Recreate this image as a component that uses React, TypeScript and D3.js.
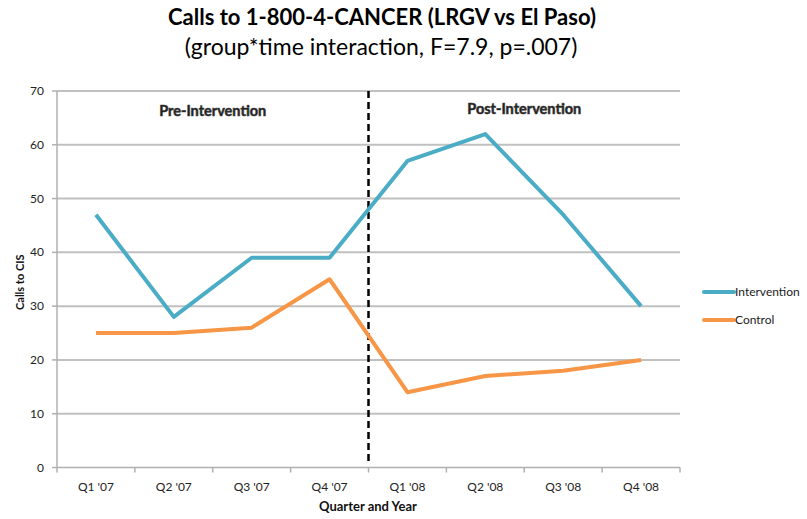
import React, { useEffect, useRef } from 'react';
import * as d3 from 'd3';

const quarters = ["Q1 '07", "Q2 '07", "Q3 '07", "Q4 '07", "Q1 '08", "Q2 '08", "Q3 '08", "Q4 '08"];
const intervention = [47, 28, 39, 39, 57, 62, 47, 30];
const control = [25, 25, 26, 35, 14, 17, 18, 20];
const yTicks = [0, 10, 20, 30, 40, 50, 60, 70];
const seriesNames = ['Intervention', 'Control'];
const seriesColors = ['#4bacc6', '#f79646'];
const phaseLabels = ['Pre-Intervention', 'Post-Intervention'];

export default function App() {
  const svgRef = useRef<SVGSVGElement | null>(null);

  useEffect(() => {
    const svgEl = svgRef.current;
    if (!svgEl) return;
    const svg = d3.select(svgEl);
    svg.selectAll('*').remove();

    const width = 807;
    const height = 519;
    const left = 57;
    const right = 680;
    const top = 91;
    const bottom = 467.5;
    const font = 'Lato, "Open Sans", sans-serif';

    const x = d3.scaleBand().domain(quarters).range([left, right]).padding(0);
    const y = d3.scaleLinear().domain([0, 70]).range([bottom, top]);
    const cx = (q: string) => (x(q) ?? 0) + x.bandwidth() / 2;

    svg.append('rect').attr('width', width).attr('height', height).attr('fill', '#fff');

    // Title
    svg.append('text')
      .attr('x', 382).attr('y', 25)
      .attr('text-anchor', 'middle')
      .attr('font-family', font).attr('font-weight', 'bold').attr('font-size', 22)
      .attr('fill', '#000')
      .text('Calls to 1-800-4-CANCER (LRGV vs El Paso)');
    svg.append('text')
      .attr('x', 381).attr('y', 55)
      .attr('text-anchor', 'middle')
      .attr('font-family', font).attr('font-size', 23)
      .attr('fill', '#000')
      .text('(group*time interaction, F=7.9, p=.007)');

    // Gridlines
    svg.append('g')
      .selectAll('line')
      .data(yTicks.filter(t => t > 0))
      .enter()
      .append('line')
      .attr('x1', left).attr('x2', right)
      .attr('y1', d => y(d)).attr('y2', d => y(d))
      .attr('stroke', '#c0c0c0').attr('stroke-width', 2);

    // Axes lines
    svg.append('line')
      .attr('x1', left).attr('x2', left).attr('y1', top).attr('y2', bottom)
      .attr('stroke', '#b0b0b0').attr('stroke-width', 1.5);
    svg.append('line')
      .attr('x1', left).attr('x2', right).attr('y1', bottom).attr('y2', bottom)
      .attr('stroke', '#b0b0b0').attr('stroke-width', 1.5);

    // Y ticks + labels
    const yg = svg.append('g');
    yg.selectAll('line')
      .data(yTicks)
      .enter()
      .append('line')
      .attr('x1', left - 5).attr('x2', left)
      .attr('y1', d => y(d)).attr('y2', d => y(d))
      .attr('stroke', '#b0b0b0').attr('stroke-width', 1.5);
    yg.selectAll('text')
      .data(yTicks)
      .enter()
      .append('text')
      .attr('x', left - 13).attr('y', d => y(d) + 4)
      .attr('text-anchor', 'end')
      .attr('font-family', font).attr('font-size', 12).attr('fill', '#222')
      .text(d => d);

    // X ticks at boundaries
    const boundaries = quarters.map(q => x(q) ?? 0).concat([right]);
    svg.append('g')
      .selectAll('line')
      .data(boundaries)
      .enter()
      .append('line')
      .attr('x1', d => d).attr('x2', d => d)
      .attr('y1', bottom).attr('y2', bottom + 5)
      .attr('stroke', '#b0b0b0').attr('stroke-width', 1.5);
    svg.append('g')
      .selectAll('text')
      .data(quarters)
      .enter()
      .append('text')
      .attr('x', d => cx(d)).attr('y', bottom + 23)
      .attr('text-anchor', 'middle')
      .attr('font-family', font).attr('font-size', 12).attr('fill', '#222')
      .text(d => d);

    // Axis titles
    svg.append('text')
      .attr('x', 368).attr('y', 511)
      .attr('text-anchor', 'middle')
      .attr('font-family', font).attr('font-weight', 'bold').attr('font-size', 13)
      .attr('fill', '#111')
      .text('Quarter and Year');
    svg.append('text')
      .attr('transform', `translate(24, ${(top + bottom) / 2 + 3}) rotate(-90)`)
      .attr('text-anchor', 'middle')
      .attr('font-family', font).attr('font-weight', 'bold').attr('font-size', 11)
      .attr('fill', '#111')
      .text('Calls to CIS');

    // Dashed divider between Q4 '07 and Q1 '08
    const divX = x(quarters[4]) ?? 0;
    svg.append('line')
      .attr('x1', divX).attr('x2', divX)
      .attr('y1', top).attr('y2', bottom - 6)
      .attr('stroke', '#000').attr('stroke-width', 2.5)
      .attr('stroke-dasharray', '7,4');

    // Phase labels
    const phaseX = [(left + divX) / 2, (divX + right) / 2];
    svg.append('g')
      .selectAll('text')
      .data(phaseLabels)
      .enter()
      .append('text')
      .attr('x', (d, i) => phaseX[i]).attr('y', (d, i) => (i === 0 ? 116 : 114))
      .attr('text-anchor', 'middle')
      .attr('font-family', font).attr('font-weight', 'bold').attr('font-size', 14.5)
      .attr('fill', '#1a1a1a')
      .attr('stroke', '#444').attr('stroke-width', 0.6)
      .text(d => d);

    // Lines
    const line = d3.line<number>()
      .x((d, i) => cx(quarters[i]))
      .y(d => y(d));
    [intervention, control].forEach((vals, i) => {
      svg.append('path')
        .datum(vals)
        .attr('d', line)
        .attr('fill', 'none')
        .attr('stroke', seriesColors[i])
        .attr('stroke-width', 4)
        .attr('stroke-linejoin', 'round');
    });

    // Legend
    const lg = svg.append('g');
    seriesNames.forEach((name, i) => {
      const ly = 292 + i * 28;
      lg.append('line')
        .attr('x1', 704).attr('x2', 734).attr('y1', ly).attr('y2', ly)
        .attr('stroke', seriesColors[i]).attr('stroke-width', 4)
        .attr('stroke-linecap', 'round');
      lg.append('text')
        .attr('x', 735).attr('y', ly + 4)
        .attr('font-family', font).attr('font-size', 12).attr('fill', '#222')
        .text(name);
    });
  }, []);

  return <svg ref={svgRef} width={807} height={519} style={{ display: 'block', position: 'absolute', left: 0, top: 0 }} />;
}
